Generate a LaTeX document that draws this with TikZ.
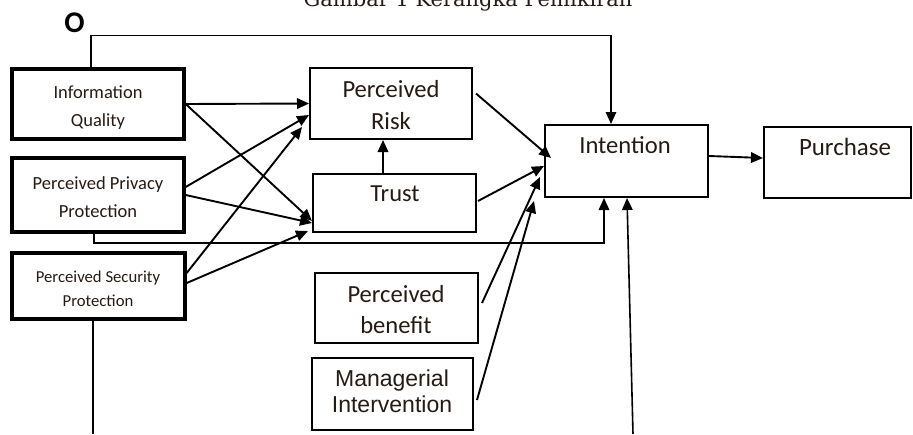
\documentclass[tikz,border=0pt]{standalone}
\usepackage{fontspec}
\setmainfont{Carlito}
\newfontfamily\arialf{Liberation Sans}
\newfontfamily\titlef{DejaVu Serif}
\usetikzlibrary{arrows.meta}
\definecolor{txt}{RGB}{38,26,20}
\begin{document}
\begin{tikzpicture}[x=1pt,y=1pt,
  tbox/.style={draw, line width=3.4pt, inner sep=0pt},
  nbox/.style={draw, line width=2pt, inner sep=0pt},
  lbl/.style={text=txt, align=center, inner sep=0pt},
  arr/.style={line width=1.9pt, -{Triangle[length=12pt,width=10.5pt]}},
  ln/.style={line width=1.6pt}]
\useasboundingbox (0,0) rectangle (913,-434);
% title (cut at top edge, as in the reference)
\node[lbl, anchor=base, font=\titlef\fontsize{21}{21}\selectfont] (title) at (468,-6) {Gambar 1 Kerangka Pemikiran};
\node[lbl, text=black, font=\bfseries\fontsize{30}{30}\selectfont] (o) at (74.5,-22.5) {O};
% boxes
\node[tbox, minimum width=172pt, minimum height=70pt] (iq) at (98,-104) {};
\node[tbox, minimum width=172pt, minimum height=74pt] (ppp) at (98,-195) {};
\node[tbox, minimum width=173pt, minimum height=66pt] (psp) at (98.5,-286) {};
\node[nbox, minimum width=162pt, minimum height=71pt] (risk) at (391,-103.5) {};
\node[nbox, minimum width=163pt, minimum height=58pt] (trust) at (394.5,-203) {};
\node[nbox, minimum width=163pt, minimum height=72pt] (int) at (626.5,-161) {};
\node[nbox, minimum width=147pt, minimum height=71pt] (pur) at (837.5,-162.5) {};
\node[nbox, minimum width=163pt, minimum height=70pt] (ben) at (396.5,-308) {};
\node[nbox, minimum width=161pt, minimum height=72pt] (mi) at (392.5,-394) {};
% texts
\node[lbl, font=\fontsize{18.5}{28}\selectfont] (iqt) at (98,-107.5) {Information\\Quality};
\node[lbl, font=\fontsize{18.5}{28}\selectfont] (pppt) at (98,-197) {Perceived Privacy\\Protection};
\node[lbl, font=\fontsize{16.7}{24}\selectfont] (pspt) at (98,-289) {Perceived Security\\Protection};
\node[lbl, font=\fontsize{24.6}{32}\selectfont] (riskt) at (391,-105) {Perceived\\Risk};
\node[lbl, font=\fontsize{24.5}{30}\selectfont] (trustt) at (395,-194) {Trust};
\node[lbl, font=\fontsize{24.6}{30}\selectfont] (intt) at (625,-145) {Intention};
\node[lbl, font=\fontsize{24.9}{30}\selectfont] (purt) at (845,-147) {Purchase};
\node[lbl, font=\fontsize{24.6}{31}\selectfont] (bent) at (396,-309.5) {Perceived\\benefit};
\node[lbl, font=\arialf\fontsize{23}{26}\selectfont] (mit) at (392,-391) {Managerial\\Intervention};
% free ends at bottom
\coordinate (pspend) at (93,-434);
\coordinate (botin) at (633,-434);
% connectors
\draw[arr] (iq.east) -- (risk.west);
\draw[arr] (iq.east) -- ([yshift=12pt]trust.south west);
\draw[arr] ([yshift=8pt]ppp.east) -- ([yshift=-11.5pt]risk.west);
\draw[arr] (ppp.east) -- ([yshift=10pt]trust.south west);
\draw[arr] ([yshift=13pt]psp.east) -- ([xshift=-7pt,yshift=13pt]risk.south west);
\draw[arr] ([yshift=3pt]psp.east) -- ([xshift=-4pt,yshift=2pt]trust.south west);
\draw[arr] ([xshift=-11.5pt]trust.north) -- ([xshift=-8pt]risk.south);
\draw[arr] ([xshift=3pt,yshift=10pt]risk.east) -- ([xshift=7pt,yshift=3pt]int.west);
\draw[arr] ([xshift=1pt,yshift=2pt]trust.east) -- ([yshift=-5pt]int.west);
\draw[arr] ([xshift=3pt,yshift=5pt]ben.east) -- ([xshift=-4pt,yshift=-16pt]int.west);
\draw[arr] ([xshift=3pt,yshift=-6pt]mi.east) -- ([xshift=-10pt,yshift=-3pt]int.south west);
\draw[arr] ([yshift=5pt]int.east) -- ([yshift=4.5pt]pur.west);
\draw[ln, -{Triangle[length=12pt,width=10.5pt]}] ([xshift=-7pt]iq.north) -- ++(0,32) -| ([xshift=-15.5pt]int.north);
\draw[ln, -{Triangle[length=12pt,width=10.5pt]}] ([xshift=-4pt]ppp.south) -- ++(0,-9) -| ([xshift=-22.5pt]int.south);
\draw[ln] ([xshift=-5.5pt]psp.south) -- (pspend);
\draw[ln, -{Triangle[length=12pt,width=10.5pt]}] (botin) -- ([xshift=0.5pt]int.south);
\end{tikzpicture}
\end{document}
